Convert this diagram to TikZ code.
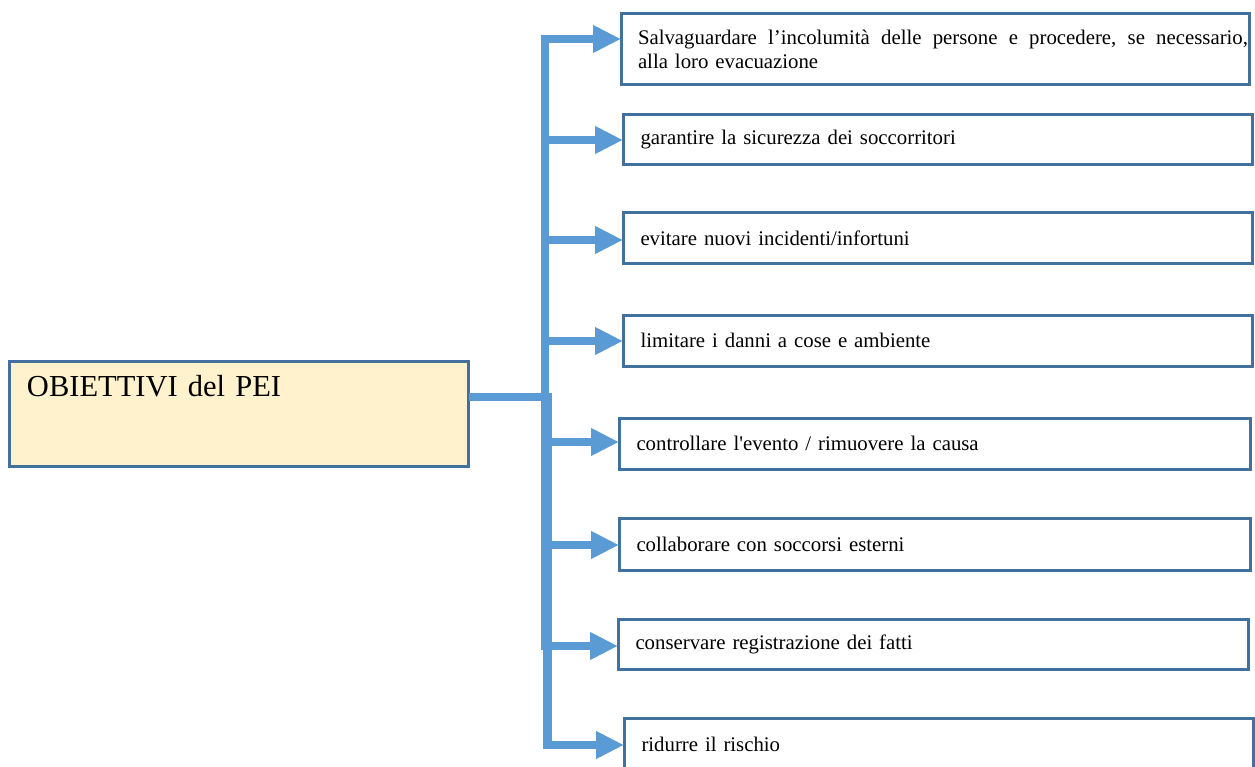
\documentclass[tikz,border=0pt]{standalone}
\usepackage{fontspec}
\setmainfont{Liberation Serif}[Ligatures=TeXOff]
\newfontfamily\goalfam{Liberation Serif}[Ligatures=TeXOff, WordSpace=0.85]
\usetikzlibrary{arrows.meta}
\definecolor{boxline}{RGB}{65,113,156}
\definecolor{connblue}{RGB}{91,155,213}
\definecolor{mainfill}{RGB}{255,242,204}
\begin{document}
\begin{tikzpicture}[x=1pt,y=-1pt,
  goalbox/.style={draw=boxline, line width=3pt, fill=white, rectangle, anchor=north west,
    outer sep=0pt, inner xsep=17.5pt, inner ysep=0pt, align=left,
    font=\goalfam\fontsize{20.8}{23.5}\selectfont},
  arrowline/.style={draw=connblue, line width=8.5pt, line join=miter,
    -{Triangle[length=28pt,width=26pt]}}]
\useasboundingbox (0,0) rectangle (1255,767);

\node[draw=boxline, line width=3pt, fill=mainfill, anchor=north west, outer sep=0pt,
  inner xsep=17.5pt, inner ysep=0pt, text width=424pt, text height=35pt, text depth=69.5pt,
  align=left, font=\fontsize{30.5}{36}\selectfont] (main) at (9.5,361.5) {OBIETTIVI del PEI};

\node[goalbox, minimum width=628pt, minimum height=71pt, inner xsep=0pt, text width=628pt] (b1) at (621,14)
  {\hspace*{17pt}\hbox to 610pt{Salvaguardare\hfill l’incolumità\hfill delle\hfill persone\hfill e\hfill procedere,\hfill se\hfill necessario,}\\\hspace*{17pt}alla loro evacuazione};
\node[goalbox, minimum width=629pt, minimum height=50pt, text width=594pt] (b2) at (623,115) {garantire la sicurezza dei soccorritori};
\node[goalbox, minimum width=629pt, minimum height=51pt, text width=594pt] (b3) at (623,213) {evitare nuovi incidenti/infortuni};
\node[goalbox, minimum width=629pt, minimum height=51pt, text width=594pt] (b4) at (623,315) {limitare i danni a cose e ambiente};
\node[goalbox, minimum width=631pt, minimum height=51pt, text width=596pt] (b5) at (619,418) {controllare l'evento / rimuovere la causa};
\node[goalbox, minimum width=631pt, minimum height=52pt, text width=596pt] (b6) at (619,518) {collaborare con soccorsi esterni};
\node[goalbox, minimum width=630pt, minimum height=50pt, text width=595pt] (b7) at (618,619) {conservare registrazione dei fatti};
\node[goalbox, minimum width=629pt, minimum height=52pt, text width=594pt] (b8) at (624,718) {ridurre il rischio};

% lower trunk from the main box down to the last goal
\coordinate (jm) at (547.5,397);
\coordinate (j8) at (547.5,745);
\draw[arrowline] (main.east |- jm) -- (jm) -- (j8) -- (j8 -| b8.west);

% upper trunk
\coordinate (j1) at (545,39);
\coordinate (jb) at (545,650);
\draw[arrowline] (jb) -- (j1) -- (j1 -| b1.west);

\foreach \i/\yy in {2/140,3/240,4/341,5/442,6/545,7/646}{
  \coordinate (j\i) at (545,\yy);
  \draw[arrowline] (j\i) -- (j\i -| b\i.west);
}
\end{tikzpicture}
\end{document}
